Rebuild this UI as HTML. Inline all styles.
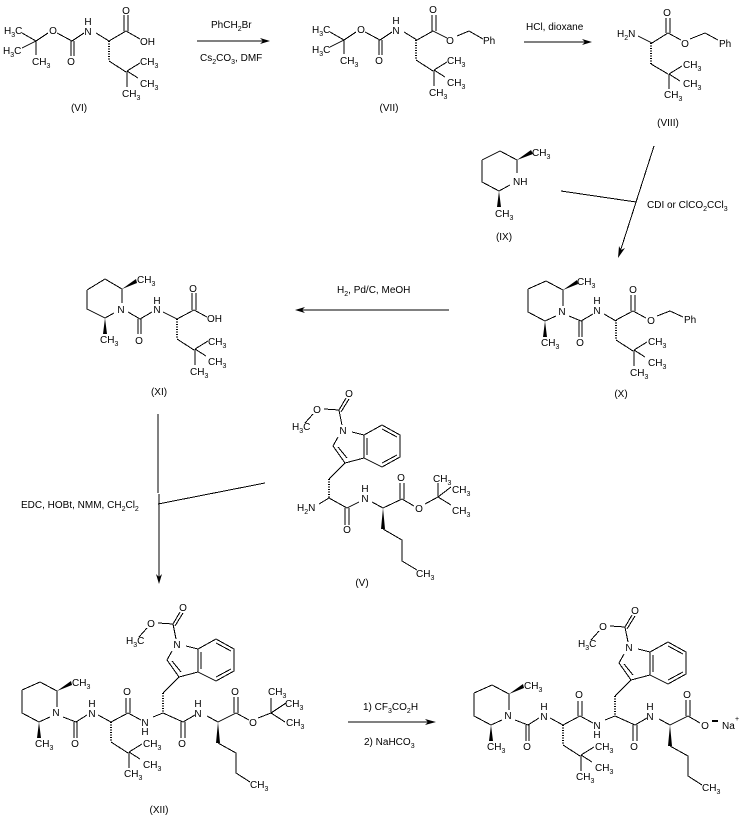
<!DOCTYPE html>
<html><head><meta charset="utf-8"><style>
html,body{margin:0;padding:0;background:#fff}
svg{display:block}
text{font-family:"Liberation Sans",sans-serif;font-size:10px;fill:#000}
.m{text-anchor:middle}
.s{font-size:7px}
path{fill:none;stroke:#000;stroke-width:1;shape-rendering:crispEdges}
path.h{stroke-width:2;stroke-dasharray:1 1.5}
polygon{fill:#000;stroke:none}
</style></head><body>
<svg width="744" height="816" viewBox="0 0 744 816" xmlns="http://www.w3.org/2000/svg">

<!-- VI -->
<g>
<path d="M22 33L36 41M22 48L36 41V55M36 41L48 33M57 33L72 41M71 41V56M74 41V56M72 41L84 33M96 33L109 41L126 31M124 15V31M128 15V31M126 31L140 39"/>
<text x="4" y="34">H<tspan class="s" dy="3">3</tspan><tspan dy="-3">C</tspan></text>
<text x="3" y="54">H<tspan class="s" dy="3">3</tspan><tspan dy="-3">C</tspan></text>
<text x="32" y="65">CH<tspan class="s" dy="3">3</tspan></text>
<text class="m" x="53" y="34">O</text>
<text class="m" x="71" y="65">O</text>
<text class="m" x="88" y="25">H</text>
<text class="m" x="88" y="35">N</text>
<text class="m" x="126" y="14">O</text>
<text x="140" y="45">OH</text>
<g transform="translate(109,41)"><path class="h" d="M0 0V20"/><path d="M0 20L17 31M18 30L31 22M18 30L29 37M18 30V46"/>
<text x="31" y="24">CH<tspan class="s" dy="3">3</tspan></text><text x="31" y="46">CH<tspan class="s" dy="3">3</tspan></text><text x="13" y="56">CH<tspan class="s" dy="3">3</tspan></text></g>
<text class="m" x="79" y="111">(VI)</text>
</g>

<!-- arrow 1 -->
<path d="M197 41H264"/><polygon points="270,41 260,38 263,41 260,44"/>
<text x="211" y="28">PhCH<tspan class="s" dy="3">2</tspan><tspan dy="-3">Br</tspan></text>
<text x="200" y="61">Cs<tspan class="s" dy="3">2</tspan><tspan dy="-3">CO</tspan><tspan class="s" dy="3">3</tspan><tspan dy="-3">, DMF</tspan></text>

<!-- VII -->
<g transform="translate(308,-1)">
<path d="M22 33L36 41M22 48L36 41V55M36 41L48 33M57 33L72 41M71 41V56M74 41V56M72 41L84 33M96 33L109 41L125 32M124 16V32M128 16V32M125 32L139 39M149 37L161 32L175 40"/>
<text x="4" y="34">H<tspan class="s" dy="3">3</tspan><tspan dy="-3">C</tspan></text>
<text x="4" y="54">H<tspan class="s" dy="3">3</tspan><tspan dy="-3">C</tspan></text>
<text x="32" y="65">CH<tspan class="s" dy="3">3</tspan></text>
<text class="m" x="53" y="34">O</text>
<text class="m" x="71" y="65">O</text>
<text class="m" x="88" y="25">H</text>
<text class="m" x="88" y="35">N</text>
<text class="m" x="125" y="14">O</text>
<text class="m" x="142" y="45">O</text>
<text x="175" y="45">Ph</text>
<g transform="translate(108,41)"><path class="h" d="M0 0V20"/><path d="M0 20L17 31M18 30L31 22M18 30L29 37M18 30V46"/>
<text x="31" y="24">CH<tspan class="s" dy="3">3</tspan></text><text x="31" y="46">CH<tspan class="s" dy="3">3</tspan></text><text x="13" y="56">CH<tspan class="s" dy="3">3</tspan></text></g>
<text class="m" x="81" y="112">(VII)</text>
</g>

<!-- arrow 2 -->
<path d="M524 42H586"/><polygon points="592,42 582,39 585,42 582,45"/>
<text x="526" y="30">HCl, dioxane</text>

<!-- VIII -->
<path d="M638 36L652 43L668 33M666 18V33M670 18V33M668 33L681 40M690 39L705 33L718 40"/>
<text x="617" y="37">H<tspan class="s" dy="3">2</tspan><tspan dy="-3">N</tspan></text>
<text class="m" x="667" y="16">O</text>
<text class="m" x="685" y="47">O</text>
<text x="719" y="47">Ph</text>
<g transform="translate(651,43)"><path class="h" d="M0 0V21"/><path d="M0 21L17 31M18 31L31 23M18 31L29 38M18 31V46"/>
<text x="32" y="25">CH<tspan class="s" dy="3">3</tspan></text><text x="32" y="44">CH<tspan class="s" dy="3">3</tspan></text><text x="13" y="55">CH<tspan class="s" dy="3">3</tspan></text></g>
<text class="m" x="668" y="126">(VIII)</text>

<!-- IX -->
<path d="M482 160L500 151L517 160V173M510 185L499 191L482 182V160"/>
<polygon points="517,160 531,150 533,154"/>
<polygon points="499,191 497,207 501,207"/>
<text x="513" y="185">NH</text>
<text x="532" y="156">CH<tspan class="s" dy="3">3</tspan></text>
<text x="495" y="217">CH<tspan class="s" dy="3">3</tspan></text>
<text class="m" x="504" y="240">(IX)</text>

<!-- arrow CDI -->
<path d="M654 146L620 252M561 191L636 202"/>
<polygon points="618,258 619,246 621,250 625,248"/>
<text x="647" y="208">CDI or ClCO<tspan class="s" dy="3">2</tspan><tspan dy="-3">CCl</tspan><tspan class="s" dy="3">3</tspan></text>

<!-- X -->
<g transform="translate(506,-401)">
<path d="M22 690L40 682L57 691V707M50 717L39 722L22 713V690"/>
<polygon points="57,691 71,681 72,685"/>
<polygon points="39,722 37,738 41,738"/>
<text x="71" y="686">CH<tspan class="s" dy="3">3</tspan></text>
<text x="35" y="747">CH<tspan class="s" dy="3">3</tspan></text>
<text class="m" x="56" y="716">N</text>
<path d="M63 717L75 722L87 715M73 722V738M76 722V738M98 715L110 722"/>
<text class="m" x="74" y="747">O</text>
<text class="m" x="91" y="705">H</text>
<text class="m" x="91" y="715">N</text>
</g>
<path d="M616 320L633 311M631 295V311M635 295V311M633 311L646 318M657 316L670 311L683 317"/>
<text class="m" x="633" y="293">O</text>
<text class="m" x="651" y="324">O</text>
<text x="684" y="323">Ph</text>
<g transform="translate(616,320)"><path class="h" d="M0 0V20"/><path d="M0 20L17 31M18 30L31 22M18 30L29 37M18 30V46"/>
<text x="32" y="25">CH<tspan class="s" dy="3">3</tspan></text><text x="32" y="46">CH<tspan class="s" dy="3">3</tspan></text><text x="14" y="56">CH<tspan class="s" dy="3">3</tspan></text></g>
<text class="m" x="621" y="397">(X)</text>

<!-- arrow H2 -->
<path d="M449 310H301"/><polygon points="295,310 305,307 302,310 305,313"/>
<text x="337" y="293">H<tspan class="s" dy="3">2</tspan><tspan dy="-3">, Pd/C, MeOH</tspan></text>

<!-- XI -->
<g transform="translate(65,-402)">
<path d="M22 692L40 681L57 691V705M49 715L40 720L22 711V692"/>
<polygon points="57,691 71,681 72,685"/>
<polygon points="40,720 38,736 42,736"/>
<text x="72" y="685">CH<tspan class="s" dy="3">3</tspan></text>
<text x="35" y="745">CH<tspan class="s" dy="3">3</tspan></text>
<text class="m" x="56" y="715">N</text>
<path d="M63 714L75 721L87 714M73 721V736M76 721V736M98 714L112 721"/>
<text class="m" x="74" y="746">O</text>
<text class="m" x="92" y="706">H</text>
<text class="m" x="92" y="715">N</text>
</g>
<path d="M177 319L194 310M192 293V310M196 293V310M194 310L207 317"/>
<text class="m" x="193" y="292">O</text>
<text x="207" y="322">OH</text>
<g transform="translate(177,319)"><path class="h" d="M0 0V20"/><path d="M0 20L17 31M18 30L31 22M18 30L29 37M18 30V46"/>
<text x="31" y="26">CH<tspan class="s" dy="3">3</tspan></text><text x="31" y="46">CH<tspan class="s" dy="3">3</tspan></text><text x="13" y="56">CH<tspan class="s" dy="3">3</tspan></text></g>
<text class="m" x="159" y="395">(XI)</text>

<!-- arrow EDC -->
<path d="M158 414V493M159 494V577M158 504L265 483"/>
<polygon points="159,584 156,574 159,577 162,574"/>
<text x="21" y="508">EDC, HOBt, NMM, CH<tspan class="s" dy="3">2</tspan><tspan dy="-3">Cl</tspan><tspan class="s" dy="3">2</tspan></text>

<!-- V : indole -->
<g>
<path d="M339 410L346 398M341 412L349 399M324 409L339 410M313 414L305 423M339 410L342 425M352 432L364 435M338 437L333 446L345 463M338 447L347 458M345 463L364 458M364 435L382 425L400 435V457L382 467L364 458V435M367 438V455M382 429L397 437M397 455L382 463M345 463L329 479"/>
<path class="h" d="M329 479V498"/>
<text class="m" x="349" y="397">O</text>
<text class="m" x="317" y="413">O</text>
<text x="292" y="430">H<tspan class="s" dy="3">3</tspan><tspan dy="-3">C</tspan></text>
<text class="m" x="343" y="434">N</text>
</g>
<path d="M319 504L329 498L347 508M345 508V525M349 508V525M347 508L359 502M372 502L383 508L402 499M400 483V499M404 483V499M402 499L414 506M425 504L438 497V483M438 497L451 487M438 497L451 505M383 529L402 540V561L417 570"/>
<polygon points="383,508 381,529 385,529"/>
<text x="297" y="511">H<tspan class="s" dy="3">2</tspan><tspan dy="-3">N</tspan></text>
<text class="m" x="347" y="533">O</text>
<text class="m" x="365" y="492">H</text>
<text class="m" x="365" y="502">N</text>
<text class="m" x="401" y="481">O</text>
<text class="m" x="419" y="512">O</text>
<text x="433" y="482">CH<tspan class="s" dy="3">3</tspan></text>
<text x="452" y="493">CH<tspan class="s" dy="3">3</tspan></text>
<text x="452" y="514">CH<tspan class="s" dy="3">3</tspan></text>
<text x="416" y="577">CH<tspan class="s" dy="3">3</tspan></text>
<text class="m" x="362" y="586">(V)</text>

<!-- XII -->
<g>
<path d="M22 690L40 682L57 691V707M50 717L39 722L22 713V690"/>
<polygon points="57,691 71,681 72,685"/>
<polygon points="39,722 37,738 41,738"/>
<text x="72" y="686">CH<tspan class="s" dy="3">3</tspan></text>
<text x="35" y="747">CH<tspan class="s" dy="3">3</tspan></text>
<text class="m" x="56" y="716">N</text>
<path d="M63 717L76 722L87 715M74 722V738M77 722V738M98 715L111 722"/>
<text class="m" x="75" y="747">O</text>
<text class="m" x="92" y="707">H</text>
<text class="m" x="92" y="717">N</text>
<path d="M111 722L128 713M126 698V713M130 698V713M128 713L141 720M153 717L163 713L183 722M181 722V738M185 722V738M183 722L195 715M207 716L218 722L236 713M234 697V713M238 697V713M218 743L236 753V773L250 782"/>
<polygon points="218,722 216,743 220,743"/>
<text class="m" x="127" y="695">O</text>
<text class="m" x="145" y="726">N</text>
<text class="m" x="145" y="735">H</text>
<text class="m" x="182" y="747">O</text>
<text class="m" x="198" y="707">H</text>
<text class="m" x="198" y="717">N</text>
<text class="m" x="235" y="695">O</text>
<text x="250" y="788">CH<tspan class="s" dy="3">3</tspan></text>
<g transform="translate(111,722)"><path class="h" d="M0 0V20"/><path d="M0 20L17 31M18 30L31 22M18 30L29 37M18 30V46"/>
<text x="32" y="25">CH<tspan class="s" dy="3">3</tspan></text><text x="32" y="46">CH<tspan class="s" dy="3">3</tspan></text><text x="13" y="55">CH<tspan class="s" dy="3">3</tspan></text></g>
<g transform="translate(-166,214)">
<path d="M339 410L346 398M341 412L349 399M324 409L339 410M313 414L305 423M339 410L342 425M352 432L364 435M338 437L333 446L345 463M338 447L347 458M345 463L364 458M364 435L382 425L400 435V457L382 467L364 458V435M367 438V455M382 429L397 437M397 455L382 463M345 463L329 479"/>
<path class="h" d="M329 479V498"/>
<text class="m" x="349" y="397">O</text>
<text class="m" x="317" y="413">O</text>
<text x="292" y="430">H<tspan class="s" dy="3">3</tspan><tspan dy="-3">C</tspan></text>
<text class="m" x="343" y="434">N</text>
</g>
</g>
<path d="M236 713L249 720M258 718L271 713V698M271 713L286 703M271 713L285 722"/>
<text class="m" x="253" y="726">O</text>
<text x="268" y="695">CH<tspan class="s" dy="3">3</tspan></text>
<text x="285" y="707">CH<tspan class="s" dy="3">3</tspan></text>
<text x="286" y="726">CH<tspan class="s" dy="3">3</tspan></text>
<text class="m" x="159" y="813">(XII)</text>

<!-- arrow last -->
<path d="M348 722H430"/><polygon points="436,722 425,719 428,722 425,725"/>
<text x="363" y="710">1) CF<tspan class="s" dy="3">3</tspan><tspan dy="-3">CO</tspan><tspan class="s" dy="3">2</tspan><tspan dy="-3">H</tspan></text>
<text x="364" y="745">2) NaHCO<tspan class="s" dy="3">3</tspan></text>

<!-- final -->
<g transform="translate(452,3)">
<path d="M22 690L40 682L57 691V707M50 717L39 722L22 713V690"/>
<polygon points="57,691 71,681 72,685"/>
<polygon points="39,722 37,738 41,738"/>
<text x="72" y="686">CH<tspan class="s" dy="3">3</tspan></text>
<text x="35" y="747">CH<tspan class="s" dy="3">3</tspan></text>
<text class="m" x="56" y="716">N</text>
<path d="M63 717L76 722L87 715M74 722V738M77 722V738M98 715L111 722"/>
<text class="m" x="75" y="747">O</text>
<text class="m" x="92" y="707">H</text>
<text class="m" x="92" y="717">N</text>
<path d="M111 722L128 713M126 698V713M130 698V713M128 713L141 720M153 717L163 713L183 722M181 722V738M185 722V738M183 722L195 715M207 716L218 722L236 713M234 697V713M238 697V713M218 743L236 753V773L250 782"/>
<polygon points="218,722 216,743 220,743"/>
<text class="m" x="127" y="695">O</text>
<text class="m" x="145" y="726">N</text>
<text class="m" x="145" y="735">H</text>
<text class="m" x="182" y="747">O</text>
<text class="m" x="198" y="707">H</text>
<text class="m" x="198" y="717">N</text>
<text class="m" x="235" y="695">O</text>
<text x="250" y="788">CH<tspan class="s" dy="3">3</tspan></text>
<g transform="translate(111,722)"><path class="h" d="M0 0V20"/><path d="M0 20L17 31M18 30L31 22M18 30L29 37M18 30V46"/>
<text x="32" y="25">CH<tspan class="s" dy="3">3</tspan></text><text x="32" y="46">CH<tspan class="s" dy="3">3</tspan></text><text x="13" y="55">CH<tspan class="s" dy="3">3</tspan></text></g>
<g transform="translate(-166,214)">
<path d="M339 410L346 398M341 412L349 399M324 409L339 410M313 414L305 423M339 410L342 425M352 432L364 435M338 437L333 446L345 463M338 447L347 458M345 463L364 458M364 435L382 425L400 435V457L382 467L364 458V435M367 438V455M382 429L397 437M397 455L382 463M345 463L329 479"/>
<path class="h" d="M329 479V498"/>
<text class="m" x="349" y="397">O</text>
<text class="m" x="317" y="413">O</text>
<text x="292" y="430">H<tspan class="s" dy="3">3</tspan><tspan dy="-3">C</tspan></text>
<text class="m" x="343" y="434">N</text>
</g>
</g>
<path d="M688 716L700 723"/>
<text class="m" x="705" y="729">O</text>
<polygon points="712,720 718,720 718,722 712,722"/>
<text x="722" y="729">Na</text>
<text class="m s" x="737" y="721">+</text>
</svg>
</body></html>
